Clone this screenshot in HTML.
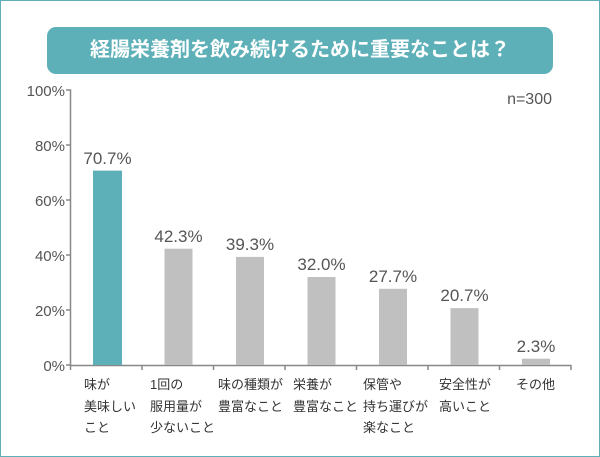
<!DOCTYPE html>
<html><head><meta charset="utf-8"><style>
body{margin:0;width:600px;height:457px;overflow:hidden;background:#fff;font-family:"Liberation Sans","Noto Sans CJK JP",sans-serif;}
#b{position:absolute;left:0;top:0;width:598px;height:455px;border:1px solid #5eb0b8;}
#t{position:absolute;left:47px;top:27px;width:506px;height:47px;background:#5eb0b8;border-radius:9px;color:#fff;font-size:20px;font-weight:bold;text-align:center;line-height:47px;}
.c{position:absolute;color:#333;font-size:13px;line-height:21.5px;white-space:nowrap;}
</style></head><body>
<div id="b"></div>
<div id="t">経腸栄養剤を飲み続けるために重要なことは？</div>
<svg width="600" height="457" style="position:absolute;left:0;top:0" font-family="Liberation Sans, sans-serif">
<text x="552" y="104" font-size="16" fill="#555" text-anchor="end">n=300</text>
<g fill="#555" font-size="15" text-anchor="end">
<text x="65" y="96">100%</text><text x="65" y="151">80%</text><text x="65" y="206">60%</text><text x="65" y="261">40%</text><text x="65" y="316">20%</text><text x="65" y="371">0%</text>
</g>
<g stroke="#888" stroke-width="1.5" fill="none">
<path d="M66 90H70.5V365.5H571.5"/>
<path d="M66 145H70.5M66 200H70.5M66 255H70.5M66 310H70.5M66 365H70.5"/>
<path d="M70.5 365V370M142 365V370M213.5 365V370M285 365V370M356.5 365V370M428 365V370M499.5 365V370M571 365V370"/>
</g>
<rect x="93" y="170.6" width="29" height="194.4" fill="#5eb0b8"/>
<g fill="#c0c0c0">
<rect x="164.5" y="248.7" width="28" height="116.3"/>
<rect x="236" y="256.9" width="28" height="108.1"/>
<rect x="307.5" y="277" width="28" height="88"/>
<rect x="379" y="288.8" width="28" height="76.2"/>
<rect x="450.5" y="308.1" width="28" height="56.9"/>
<rect x="522" y="358.7" width="28" height="6.3"/>
</g>
<g fill="#555" font-size="17" text-anchor="middle">
<text x="107.5" y="164">70.7%</text>
<text x="178.5" y="242">42.3%</text>
<text x="250" y="250">39.3%</text>
<text x="321.5" y="270">32.0%</text>
<text x="393" y="282">27.7%</text>
<text x="464.5" y="301">20.7%</text>
<text x="536" y="352">2.3%</text>
</g>
</svg>
<div class="c" style="left:84px;top:374px">味が<br>美味しい<br>こと</div>
<div class="c" style="left:150px;top:374px">1回の<br>服用量が<br>少ないこと</div>
<div class="c" style="left:218px;top:374px">味の種類が<br>豊富なこと</div>
<div class="c" style="left:293px;top:374px">栄養が<br>豊富なこと</div>
<div class="c" style="left:363px;top:374px">保管や<br>持ち運びが<br>楽なこと</div>
<div class="c" style="left:439px;top:374px">安全性が<br>高いこと</div>
<div class="c" style="left:516px;top:374px">その他</div>
</body></html>
